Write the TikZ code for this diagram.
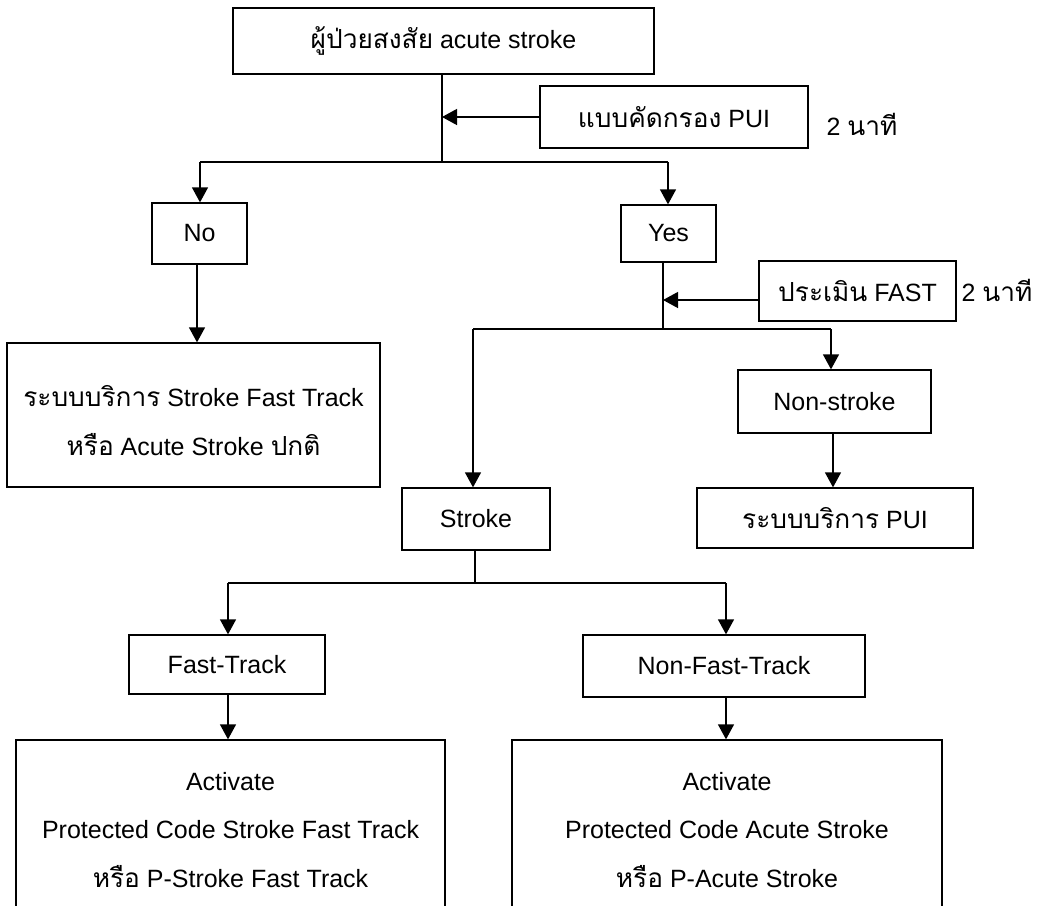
\documentclass[tikz,border=0pt]{standalone}
\usepackage{fontspec}
\setmainfont{Liberation Sans}
\newfontfamily\thaif[Script=Thai,Scale=1.05]{Loma}
\usetikzlibrary{arrows.meta}
\begin{document}
\begin{tikzpicture}[x=1pt,y=1pt,
  box/.style={draw, line width=1.3pt, inner sep=0pt, align=center, font=\fontsize{25}{48.5}\selectfont},
  conn/.style={line width=1.3pt},
  arr/.style={conn, -{Triangle[width=16pt,length=15pt]}},
  lbl/.style={inner sep=0pt, font=\fontsize{25}{30}\selectfont}]
\useasboundingbox (0,0) rectangle (1040,-905);
\clip (0,0) rectangle (1040,-905);
% boxes
\node[box, minimum width=421pt, minimum height=66pt] (top) at (443.5,-41) {{\thaif ผู้ป่วยสงสัย} acute stroke};
\node[box, minimum width=268pt, minimum height=62pt] (pui) at (674,-117) {{\thaif แบบคัดกรอง} PUI};
\node[lbl] (t1) at (862,-124) {2 {\thaif นาที}};
\node[box, minimum width=95pt, minimum height=61pt] (no) at (199.5,-233.5) {No};
\node[box, minimum width=95pt, minimum height=57pt] (yes) at (668.5,-233.5) {Yes};
\node[box, minimum width=197pt, minimum height=60pt] (fast) at (857.5,-291) {{\thaif ประเมิน} FAST};
\node[lbl] (t2) at (997,-290) {2 {\thaif นาที}};
\node[box, minimum width=373pt, minimum height=144pt] (leftsvc) at (193.5,-415) {\rule{0pt}{32pt}{\thaif ระบบบริการ} Stroke Fast Track\\{\thaif หรือ} Acute Stroke {\thaif ปกติ}};
\node[box, minimum width=193pt, minimum height=63pt] (nonstroke) at (834.5,-401.5) {Non-stroke};
\node[box, minimum width=276pt, minimum height=60pt] (puisvc) at (835,-518) {{\thaif ระบบบริการ} PUI};
\node[box, minimum width=148pt, minimum height=62pt] (stroke) at (476,-519) {Stroke};
\node[box, minimum width=196pt, minimum height=59pt] (ft) at (227,-664.5) {Fast-Track};
\node[box, minimum width=282pt, minimum height=62pt] (nft) at (724,-666) {Non-Fast-Track};
\node[box, minimum width=429pt, minimum height=180pt] (bigL) at (230.5,-830) {Activate\\Protected Code Stroke Fast Track\\{\thaif หรือ} P-Stroke Fast Track};
\node[box, minimum width=430pt, minimum height=180pt] (bigR) at (727,-830) {Activate\\Protected Code Acute Stroke\\{\thaif หรือ} P-Acute Stroke};
% junctions
\coordinate (j1) at (442,-162);
\coordinate (bL) at (200,-162);
\coordinate (bR) at (668,-162);
\coordinate (j2) at (663,-329);
\coordinate (sL) at (473,-329);
\coordinate (sR) at (831,-329);
\coordinate (j3) at (475,-583);
\coordinate (fL) at (228,-583);
\coordinate (fR) at (726,-583);
% connectors
\draw[conn] (top.south -| j1) -- (j1);
\draw[arr] (pui.west) -- (pui.west -| j1);
\draw[conn] (bL) -- (bR);
\draw[arr] (bL) -- (no.north -| bL);
\draw[arr] (bR) -- (yes.north -| bR);
\draw[arr] (no.south -| 197,0) -- (leftsvc.north -| 197,0);
\draw[conn] (yes.south -| j2) -- (j2);
\draw[arr] ([yshift=-9pt]fast.west) -- ([yshift=-9pt]fast.west -| j2);
\draw[conn] (sL) -- (sR);
\draw[arr] (sL) -- (stroke.north -| sL);
\draw[arr] (sR) -- (nonstroke.north -| sR);
\draw[arr] (nonstroke.south -| 833,0) -- (puisvc.north -| 833,0);
\draw[conn] (stroke.south -| j3) -- (j3);
\draw[conn] (fL) -- (fR);
\draw[arr] (fL) -- (ft.north -| fL);
\draw[arr] (fR) -- (nft.north -| fR);
\draw[arr] (ft.south -| fL) -- (bigL.north -| fL);
\draw[arr] (nft.south -| fR) -- (bigR.north -| fR);
\end{tikzpicture}
\end{document}
